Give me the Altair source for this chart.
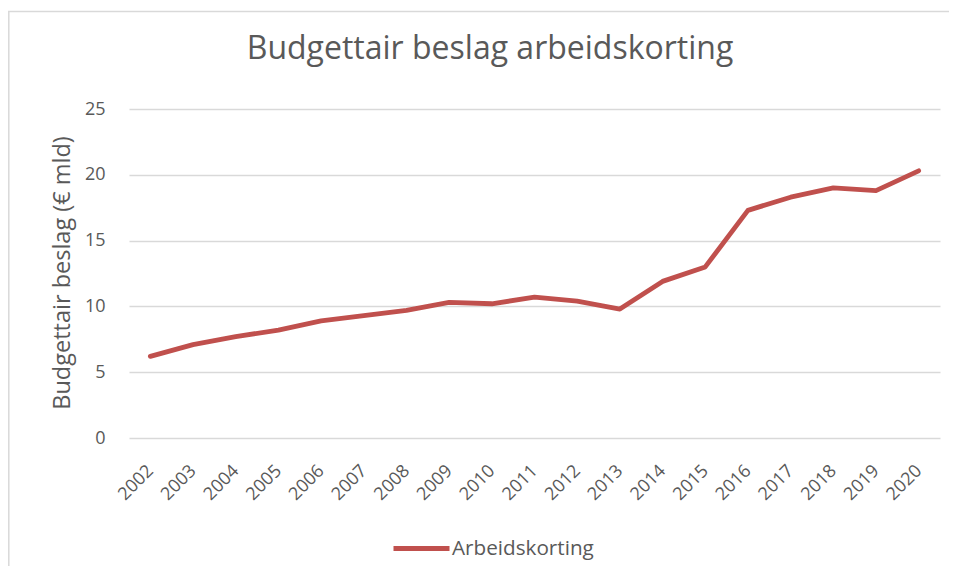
import altair as alt
import pandas as pd

years = [str(y) for y in range(2002, 2021)]
values = [6.2, 7.1, 7.7, 8.2, 8.9, 9.3, 9.7, 10.3, 10.2, 10.7, 10.4, 9.8, 11.9, 13.0, 17.3, 18.3, 19.0, 18.8, 20.3]
series = ["Arbeidskorting"] * len(years)
y_ticks = [0, 5, 10, 15, 20, 25]

title_text = "Budgettair beslag arbeidskorting"
y_title = "Budgettair beslag (€ mld)"

df = pd.DataFrame({"year": years, "value": values, "series": series})

FONT = "Open Sans"
TXT = "#595959"
GRID = "#D9D9D9"
W, H = 811, 329

line = alt.Chart(df).mark_line(strokeWidth=4.8, strokeCap="round", strokeJoin="round").encode(
    x=alt.X("year:O", scale=alt.Scale(type="point", padding=0.5), sort=years,
            axis=alt.Axis(title=None, labelAngle=-45, labelAlign="right", labelBaseline="middle",
                          labelPadding=30, labelFontSize=18, labelColor=TXT, labelFont=FONT,
                          ticks=False, domain=False, grid=False)),
    y=alt.Y("value:Q", scale=alt.Scale(domain=[0, 25], nice=False),
            axis=alt.Axis(values=y_ticks, title=y_title, titleFont=FONT, titleFontSize=23.5,
                          titleFontWeight="normal", titleColor=TXT, titleX=-67, titleY=H / 2 - 1,
                          titleAngle=-90, titleAlign="center", titleBaseline="middle",
                          labelFontSize=18, labelColor=TXT, labelFont=FONT, labelPadding=24,
                          ticks=False, domain=False, grid=True, gridColor=GRID, gridWidth=1.3)),
    color=alt.Color("series:N", scale=alt.Scale(range=["#C0504D"]),
                    legend=alt.Legend(title=None, orient="none", legendX=262, legendY=409,
                                      direction="horizontal", padding=0,
                                      symbolType="stroke", symbolSize=3136, symbolStrokeWidth=5,
                                      labelFontSize=20.7, labelColor=TXT, labelFont=FONT,
                                      labelOffset=0)),
)

one = alt.Data(values=[{"a": 1}])
frame_top = alt.Chart(one).mark_rule(stroke=GRID, strokeWidth=1.5).encode(
    x=alt.value(-121), x2=alt.value(820), y=alt.value(-97.5)
)
frame_left = alt.Chart(one).mark_rule(stroke=GRID, strokeWidth=1.5).encode(
    x=alt.value(-120.2), y=alt.value(-97.5), y2=alt.value(480)
)

title = alt.Chart(one).mark_text(
    font=FONT, fontSize=32, color=TXT, align="center", baseline="alphabetic"
).encode(
    x=alt.value(361), y=alt.value(-50), text=alt.value(title_text)
)

chart = alt.layer(frame_top, frame_left, line, title).properties(
    width=W, height=H,
    background="white",
    autosize=alt.AutoSizeParams(type="none"),
    padding={"left": 121, "top": 101, "right": 9, "bottom": 128},
).configure_view(stroke=None)

chart.save("out.html", embed_options={"renderer": "svg", "actions": False})
